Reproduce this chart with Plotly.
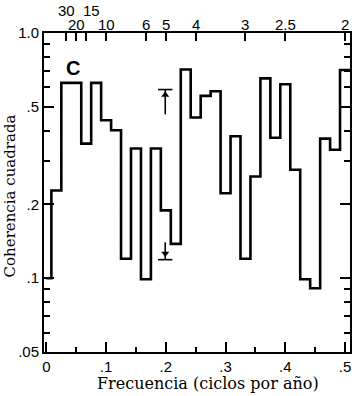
import plotly.graph_objects as go

# Spectral frequencies (cycles per year) and squared coherence
FREQ = [0.0, 0.0167, 0.0333, 0.05, 0.0667, 0.0833, 0.1, 0.1167, 0.1333, 0.15,
        0.1667, 0.1833, 0.2, 0.2167, 0.2333, 0.25, 0.2667, 0.2833, 0.3, 0.3167,
        0.3333, 0.35, 0.3667, 0.3833, 0.4, 0.4167, 0.4333, 0.45, 0.4667, 0.4833, 0.5]
COHERENCE = [0.100, 0.228, 0.626, 0.626, 0.354, 0.626, 0.441, 0.401, 0.120, 0.338,
             0.099, 0.338, 0.189, 0.138, 0.710, 0.452, 0.554, 0.579, 0.222, 0.379,
             0.120, 0.260, 0.653, 0.374, 0.618, 0.277, 0.099, 0.091, 0.371, 0.334, 0.706]

X_TICK_VALS = [0, 0.1, 0.2, 0.3, 0.4, 0.5]
X_TICK_TEXT = ["0", ".1", ".2", ".3", ".4", ".5"]
X_MINOR_VALS = [0.05, 0.15, 0.25, 0.35, 0.45]
Y_TICK_VALS = [0.05, 0.1, 0.2, 0.5, 1.0]
Y_TICK_TEXT = [".05", ".1", ".2", ".5", "1.0"]
Y_MINOR_VALS = [0.06, 0.07, 0.08, 0.09, 0.3, 0.4, 0.6, 0.7, 0.8, 0.9]

# Periods (years) on the top axis
PERIODS = [30, 20, 15, 10, 6, 5, 4, 3, 2.5, 2]
PERIOD_TEXT = ["30", "20", "15", "10", "6", "5", "4", "3", "2.5", "2"]
PERIOD_ROW = [1, 2, 1, 2, 2, 2, 2, 2, 2, 2]

# Confidence markers
CONF_FREQ = 0.199
CONF_HALF = 0.012
CONF_UPPER = 0.588
CONF_UPPER_STEM = 0.466
CONF_LOWER = 0.119
CONF_LOWER_STEM = 0.140

edges = [FREQ[0]] + [(a + b) / 2 for a, b in zip(FREQ[:-1], FREQ[1:])] + [FREQ[-1] + (FREQ[-1] - FREQ[-2]) / 2]
ys = COHERENCE + [COHERENCE[-1]]

XR = [-0.004, edges[-1]]
YR = [-1.30103, 0.0]

fig = go.Figure()
fig.add_trace(go.Scatter(x=edges, y=ys, mode="lines", line=dict(shape="hv", color="black", width=2.6),
                         hoverinfo="skip", showlegend=False))

# Upper confidence marker
fig.add_trace(go.Scatter(x=[CONF_FREQ - CONF_HALF, CONF_FREQ + CONF_HALF, None, CONF_FREQ, CONF_FREQ],
                         y=[CONF_UPPER, CONF_UPPER, None, CONF_UPPER, CONF_UPPER_STEM],
                         mode="lines", line=dict(color="black", width=1.6), showlegend=False, hoverinfo="skip"))
fig.add_trace(go.Scatter(x=[CONF_FREQ], y=[CONF_UPPER * 0.95], mode="markers",
                         marker=dict(symbol="triangle-up", size=7, color="black"), showlegend=False, hoverinfo="skip"))
# Lower confidence marker
fig.add_trace(go.Scatter(x=[CONF_FREQ - CONF_HALF, CONF_FREQ + CONF_HALF, None, CONF_FREQ, CONF_FREQ],
                         y=[CONF_LOWER, CONF_LOWER, None, CONF_LOWER, CONF_LOWER_STEM],
                         mode="lines", line=dict(color="black", width=1.6), showlegend=False, hoverinfo="skip"))
fig.add_trace(go.Scatter(x=[CONF_FREQ], y=[CONF_LOWER * 1.06], mode="markers",
                         marker=dict(symbol="triangle-down", size=7, color="black"), showlegend=False, hoverinfo="skip"))

# dummy trace to bind top axis
fig.add_trace(go.Scatter(x=[], y=[], xaxis="x2", showlegend=False, hoverinfo="skip"))

tickfont = dict(family="Liberation Sans, Arial, sans-serif", size=15, color="black")
xtitlefont = dict(family="DejaVu Serif, serif", size=16, color="black")
ytitlefont = dict(family="DejaVu Serif, serif", size=15, color="black")

fig.update_layout(
    width=359, height=396,
    margin=dict(l=44, r=7, t=33, b=44),
    paper_bgcolor="white", plot_bgcolor="white",
    xaxis=dict(range=XR, showgrid=False, zeroline=False, showline=True, linecolor="black", linewidth=2,
               mirror=True, ticks="inside", ticklen=10, tickwidth=1.5, tickcolor="black",
               tickmode="array", tickvals=X_TICK_VALS, ticktext=X_TICK_TEXT, tickfont=tickfont,
               minor=dict(tickmode="array", tickvals=X_MINOR_VALS, ticks="inside", ticklen=5,
                          tickwidth=1.5, tickcolor="black", showgrid=False)),
    xaxis2=dict(range=XR, overlaying="x", side="top", anchor="y", showgrid=False, zeroline=False,
                showline=False, ticks="inside", ticklen=8, tickwidth=1.5, tickcolor="black",
                tickmode="array", tickvals=[1 / p for p in PERIODS], showticklabels=False),
    yaxis=dict(type="log", range=YR, showgrid=False, zeroline=False, showline=True, linecolor="black",
               linewidth=2, mirror="ticks", ticks="inside", ticklen=10, tickwidth=1.5, tickcolor="black",
               tickmode="array", tickvals=Y_TICK_VALS, ticktext=Y_TICK_TEXT, tickfont=tickfont,
               minor=dict(tickmode="array", tickvals=Y_MINOR_VALS, ticks="inside", ticklen=6,
                          tickwidth=1.5, tickcolor="black", showgrid=False)),
)

annotations = []
for p, t, r in zip(PERIODS, PERIOD_TEXT, PERIOD_ROW):
    annotations.append(dict(x=1 / p, xref="x", y=1.069 if r == 1 else 1.028, yref="paper",
                            text=t, showarrow=False, xanchor="center", yanchor="middle",
                            xshift=5 if t == "15" else 0, font=tickfont))
annotations.append(dict(x=0.0667, xref="paper", y=0.931, yref="paper", text="<b>C</b>", showarrow=False,
                        font=dict(family="Liberation Sans, Arial, sans-serif", size=20, color="black")))
annotations.append(dict(x=0.535, xref="paper", y=-0.10, yref="paper", text="Frecuencia (ciclos por año)",
                        showarrow=False, xanchor="center", yanchor="middle", font=xtitlefont))
annotations.append(dict(x=-0.112, xref="paper", y=0.49, yref="paper", text="Coherencia cuadrada",
                        showarrow=False, textangle=-90, xanchor="center", yanchor="middle", font=ytitlefont))
fig.update_layout(annotations=annotations)

fig.write_html("out.html", config={"displayModeBar": False},
               post_script="document.body.style.margin='0';document.body.style.overflow='hidden';")
